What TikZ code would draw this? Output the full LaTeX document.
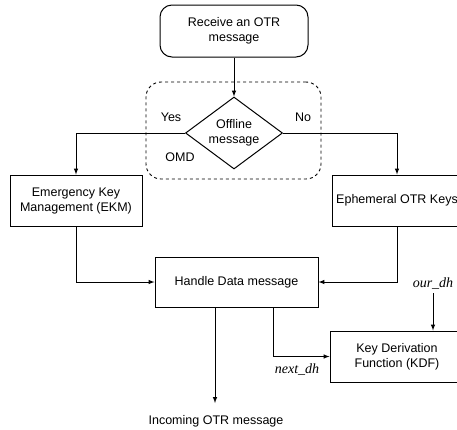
\documentclass[tikz,border=0pt]{standalone}
\usepackage{fontspec}
\setmainfont{Liberation Sans}
\newfontfamily\tnr{Liberation Serif}
\usetikzlibrary{shapes.geometric}

\begin{document}
\begin{tikzpicture}[
x=1pt,y=-1pt,
font=\fontsize{12.5}{15}\selectfont,
mybox/.style={
  draw,
  line width=1pt,
  align=center,
  minimum height=51pt,
  inner sep=2pt
  },
mydecision/.style={
  draw,
  line width=1pt,
  diamond,
  aspect=1.35,
  align=center,
  inner sep=0pt,
  minimum width=97pt,
  minimum height=72pt
  },
mylabel/.style={font=\tnr\itshape\fontsize{14}{16}\selectfont},
myarrow/.style={-latex,line width=1pt}
]
\useasboundingbox (0,0) rectangle (457,429);
\clip (0,0) rectangle (457,429);
\node[mybox,rounded corners=12pt,minimum width=148pt,minimum height=52pt] (recv) at (234,31) {Receive an OTR\\message};
\node[mydecision] (dec) at (234,133) {Offline\\message};
\node[draw,dashed,line width=0.9pt,rounded corners=15pt,minimum width=175pt,minimum height=97pt] (omd) at (233.5,130.5) {};
\node (yes) at (171,117) {Yes};
\node (no) at (303,117) {No};
\node (omdlabel) at (180,157) {OMD};
\node[mybox,minimum width=132pt] (ekm) at (76,200.5) {Emergency Key\\Management (EKM)};
\node[mybox,minimum width=130pt] (eph) at (397,200.5) {Ephemeral OTR Keys};
\node[mybox,minimum width=163pt,minimum height=50pt] (handle) at (236.5,282) {Handle Data message};
\node[mybox,minimum width=134pt] (kdf) at (397,356.5) {Key Derivation\\Function (KDF)};
\node (incoming) at (216,421) {Incoming OTR message};
\node[mylabel] (ourdh) at (433,284) {our\_dh};
\node[mylabel] (nextdh) at (297,370) {next\_dh};
\coordinate (out) at (215,403);
% connectors
\draw[myarrow] (recv) -- (dec);
\draw[myarrow] (dec.west) -| (ekm.north);
\draw[myarrow] (dec.east) -| (eph.north);
\draw[myarrow] (ekm.south) |- (handle.west);
\draw[myarrow] (eph.south) |- (handle.east);
\draw[myarrow] (handle.south -| out) -- (out);
\draw[myarrow] ([xshift=36.5pt]handle.south) |- (kdf.west);
\draw[myarrow] (ourdh.south) -- (kdf.north -| ourdh);
\end{tikzpicture}
\end{document}
